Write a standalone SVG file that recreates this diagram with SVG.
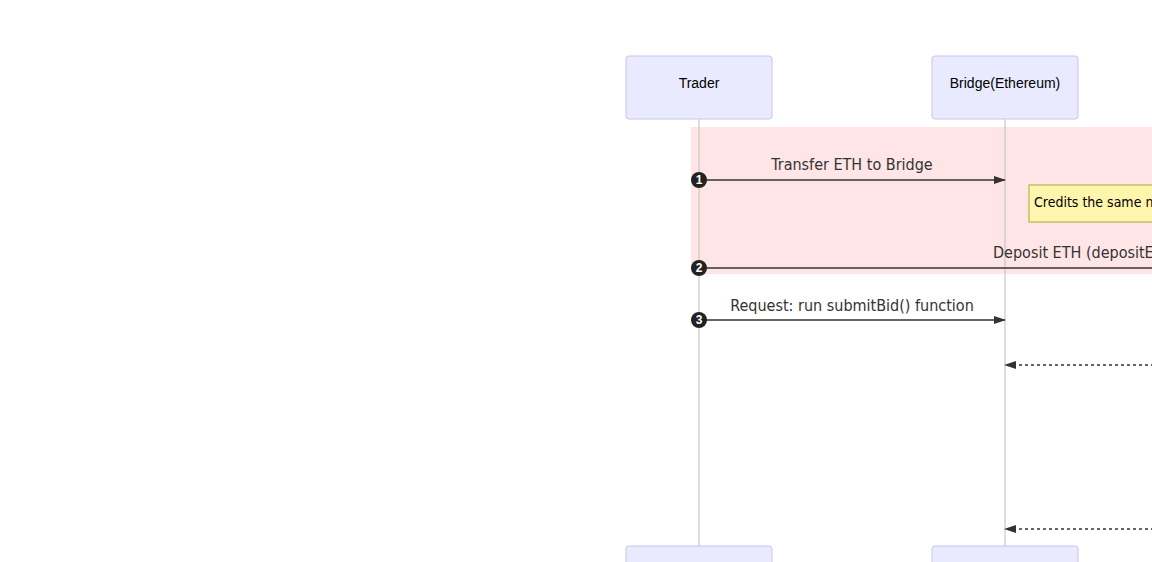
<svg xmlns="http://www.w3.org/2000/svg" width="1152" height="562" viewBox="0 0 1152 562">
<style>
.actor{fill:#eaeaff;stroke:#c9c2ef;stroke-width:1}
.actxt{font-family:"Liberation Sans",Arial,sans-serif;font-size:14px;fill:#000;text-anchor:middle;dominant-baseline:central}
.life{stroke:#bdbdbd;stroke-width:1}
.msg{stroke:#333;stroke-width:1.5;fill:none}
.dash{stroke:#333;stroke-width:1.5;fill:none;stroke-dasharray:3,3}
.mtxt{font-family:"DejaVu Sans Condensed","Liberation Sans",sans-serif;font-size:16px;fill:#333;text-anchor:middle}
.num{font-family:"Liberation Sans",Arial,sans-serif;font-size:12px;font-weight:bold;fill:#fff;text-anchor:middle;dominant-baseline:central}
</style>
<defs>
<marker id="ah" viewBox="0 0 12 10" refX="11" refY="5" markerWidth="12" markerHeight="10" markerUnits="userSpaceOnUse" orient="auto"><path d="M0,1 L12,5 L0,9 z" fill="#333"/></marker>
</defs>
<rect x="0" y="0" width="1152" height="562" fill="#fff"/>
<rect x="691" y="127" width="470" height="147" fill="#ffe5e6"/>
<g id="lifelines">
<line class="life" x1="699" y1="119" x2="699" y2="546"/>
<line class="life" x1="1005" y1="119" x2="1005" y2="546"/>
</g>
<g id="trader">
<rect class="actor" x="626" y="56" width="146" height="63" rx="3"/>
<text class="actxt" x="699" y="83">Trader</text>
</g>
<g id="bridge">
<rect class="actor" x="932" y="56" width="146" height="63" rx="3"/>
<text class="actxt" x="1005" y="83">Bridge(Ethereum)</text>
</g>
<g id="trader-bottom">
<rect class="actor" x="626" y="546" width="146" height="63" rx="3"/>
</g>
<g id="bridge-bottom">
<rect class="actor" x="932" y="546" width="146" height="63" rx="3"/>
</g>
<g id="note">
<rect x="1029" y="185" width="140" height="37" fill="#fff5ad" stroke="#aaaa33" stroke-width="1"/>
<text x="1034" y="207" font-family="DejaVu Sans Condensed,Liberation Sans,sans-serif" font-size="14" fill="#000">Credits the same n</text>
</g>
<g id="connectors">
<line class="msg" x1="699" y1="180" x2="1005" y2="180" marker-end="url(#ah)"/>
<line class="msg" x1="699" y1="268" x2="1160" y2="268"/>
<line class="msg" x1="699" y1="320" x2="1005" y2="320" marker-end="url(#ah)"/>
<line class="dash" x1="1160" y1="365" x2="1005" y2="365" marker-end="url(#ah)"/>
<line class="dash" x1="1160" y1="529" x2="1005" y2="529" marker-end="url(#ah)"/>
</g>
<g id="labels">
<text class="mtxt" x="852" y="170">Transfer ETH to Bridge</text>
<text class="mtxt" x="993" y="258" style="text-anchor:start">Deposit ETH (depositE</text>
<text class="mtxt" x="852" y="311">Request: run submitBid() function</text>
</g>
<g id="numbers">
<circle cx="699" cy="180" r="8" fill="#222"/><text class="num" x="699" y="180">1</text>
<circle cx="699" cy="268" r="8" fill="#222"/><text class="num" x="699" y="268">2</text>
<circle cx="699" cy="320" r="8" fill="#222"/><text class="num" x="699" y="320">3</text>
</g>
</svg>
